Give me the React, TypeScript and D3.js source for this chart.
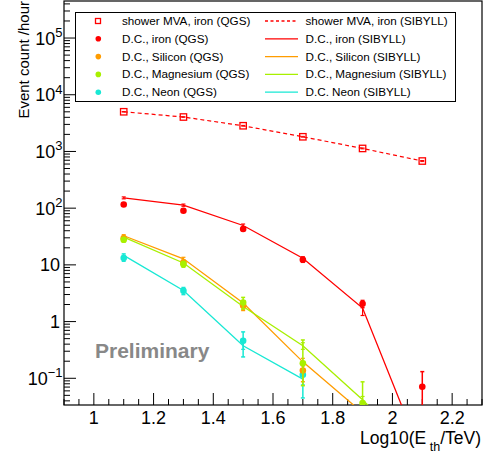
import React from "react";
import * as d3 from "d3";

// ---------- data ----------
const xs = [1.1, 1.3, 1.5, 1.7, 1.9, 2.1];

// shower MVA, iron
const mvaIronQGS = [5010, 4050, 2840, 1815, 1130, 678];
const mvaIronQGSErr = [60, 50, 40, 30, 20, 15];
const mvaIronSIB = [5010, 4050, 2840, 1815, 1130, 678];

// D.C. QGS points
const dcIronQGS = [116, 90, 42.8, 12.3, 2.06, 0.071];
const dcIronQGSUp = [6, 5, 3, 1.2, 0.3, 0.06];
const dcIronQGSDown = [6, 5, 3, 1.2, 0.3, 0.071];

const dcSiliconQGS = [29.4, 11.0, 1.92, 0.137];
const dcSiliconQGSUp = [2.5, 1.2, 0.35, 0.05];
const dcSiliconQGSDown = [2.5, 1.2, 0.35, 0.05];

const dcMagnesiumQGS = [27.7, 10.3, 2.17, 0.184, 0.0366];
const dcMagnesiumQGSUp = [2.5, 1.2, 0.5, 0.29, 0.05];
const dcMagnesiumQGSDown = [2.5, 1.2, 0.5, 0.11, 0.0366];

const dcNeonQGS = [13.2, 3.49, 0.458, 0.115];
const dcNeonQGSUp = [1.6, 0.5, 0.2, 0.06];
const dcNeonQGSDown = [1.6, 0.5, 0.22, 0.07];

// D.C. SIBYLL lines
const dcIronSIB = [152, 113, 49.5, 13.1, 1.73, 0.0041];
const dcIronSIBErr = [6, 5, 3, 0.8, 0.45, 0.001];
const dcSiliconSIB = [32.6, 12.8, 2.12, 0.195, 0.0247];
const dcSiliconSIBErr = [1.5, 0.8, 0.2, 0.03, 0.005];
const dcMagnesiumSIB = [30.8, 10.8, 1.85, 0.374, 0.0418, 0.0036];
const dcMagnesiumSIBErr = [1.5, 0.8, 0.2, 0.05, 0.006, 0.001];
const dcNeonSIB = [14.7, 3.53, 0.374, 0.0966];
const dcNeonSIBErr = [1, 0.3, 0.05, 0.02];

// axis ticks
const xTickValues = [1, 1.2, 1.4, 1.6, 1.8, 2, 2.2];
const xTickLabels = ["1", "1.2", "1.4", "1.6", "1.8", "2", "2.2"];
const yTickExps = [-1, 0, 1, 2, 3, 4, 5];

const legendLeft = [
  "shower MVA, iron (QGS)",
  "D.C., iron (QGS)",
  "D.C., Silicon (QGS)",
  "D.C., Magnesium (QGS)",
  "D.C., Neon (QGS)",
];
const legendRight = [
  "shower MVA, iron (SIBYLL)",
  "D.C., iron (SIBYLL)",
  "D.C., Silicon (SIBYLL)",
  "D.C., Magnesium (SIBYLL)",
  "D.C. Neon (SIBYLL)",
];

const RED = "#ff0000";
const ORANGE = "#ff9c00";
const LIME = "#a8f000";
const CYAN = "#18e8d4";

const W = 484;
const H = 458;
const L = 64;
const R = 482;
const T = 1;
const B = 405;
const FONT = "'Liberation Sans', Arial, Helvetica, sans-serif";
const TICK_FS = 18;

export default function App() {
  const x = d3.scaleLinear().domain([0.9, 2.3]).range([L, R]);
  const y = d3.scaleLog().domain([0.0338, 4.5e5]).range([B, T]);
  const yMin = 0.0338;

  const line = d3
    .line<[number, number]>()
    .x((d) => x(d[0]))
    .y((d) => y(Math.max(d[1], 1e-6)));

  const pts = (vals: number[]) => vals.map((v, i) => [xs[i], v] as [number, number]);

  const errBar = (
    key: string,
    xv: number,
    v: number,
    up: number,
    down: number,
    color: string,
    w = 1.3
  ) => {
    const hasLo = v - down > yMin * 0.5;
    const lo = hasLo ? v - down : yMin * 0.5;
    const yTop = y(v + up);
    const yBot = y(lo);
    const xx = x(xv);
    return (
      <g key={key} stroke={color} strokeWidth={w}>
        <line x1={xx} x2={xx} y1={yTop} y2={yBot} />
        <line x1={xx - 2} x2={xx + 2} y1={yTop} y2={yTop} />
        {hasLo && <line x1={xx - 2} x2={xx + 2} y1={yBot} y2={yBot} />}
      </g>
    );
  };

  // minor ticks
  const xMinor: number[] = [];
  for (let i = 0; i <= 28; i++) {
    const v = 0.9 + i * 0.05;
    if (!xTickValues.some((t) => Math.abs(t - v) < 1e-6)) xMinor.push(v);
  }
  const yMinor: number[] = [];
  for (let e = -2; e <= 5; e++) {
    for (let k = 2; k <= 9; k++) {
      const v = k * Math.pow(10, e);
      if (v >= yMin && v <= 4.5e5) yMinor.push(v);
    }
  }

  const sibLines = [
    { vals: dcIronSIB, err: dcIronSIBErr, color: RED },
    { vals: dcSiliconSIB, err: dcSiliconSIBErr, color: ORANGE },
    { vals: dcMagnesiumSIB, err: dcMagnesiumSIBErr, color: LIME },
    { vals: dcNeonSIB, err: dcNeonSIBErr, color: CYAN },
  ];
  const qgsPts = [
    { vals: dcNeonQGS, up: dcNeonQGSUp, down: dcNeonQGSDown, color: CYAN },
    { vals: dcSiliconQGS, up: dcSiliconQGSUp, down: dcSiliconQGSDown, color: ORANGE },
    { vals: dcMagnesiumQGS, up: dcMagnesiumQGSUp, down: dcMagnesiumQGSDown, color: LIME },
    { vals: dcIronQGS, up: dcIronQGSUp, down: dcIronQGSDown, color: RED },
  ];

  const legendColors = [RED, RED, ORANGE, LIME, CYAN];
  const rowY = (i: number) => 21 + i * 17.8;

  return (
    <div style={{ position: "absolute", left: 0, top: 0 }}>
      <svg width={W} height={H} style={{ display: "block", fontFamily: FONT }}>
        <rect x={0} y={0} width={W} height={H} fill="#fff" />
        <defs>
          <clipPath id="plotClip">
            <rect x={L} y={T} width={R - L} height={B - T} />
          </clipPath>
        </defs>

        {/* frame */}
        <rect x={L} y={T} width={R - L} height={B - T} fill="none" stroke="#000" strokeWidth={1.2} />

        {/* x ticks */}
        {xTickValues.map((t) => (
          <line key={"xt" + t} x1={x(t)} x2={x(t)} y1={B} y2={B - 12} stroke="#000" strokeWidth={1} />
        ))}
        {xMinor.map((t) => (
          <line key={"xm" + t} x1={x(t)} x2={x(t)} y1={B} y2={B - 6} stroke="#000" strokeWidth={1} />
        ))}
        {xTickValues.map((t, i) => (
          <text key={"xl" + t} x={x(t)} y={424} fontSize={TICK_FS} textAnchor="middle" fill="#000">
            {xTickLabels[i]}
          </text>
        ))}

        {/* y ticks */}
        {yTickExps.map((e) => {
          const v = Math.pow(10, e);
          return <line key={"yt" + e} x1={L} x2={L + 12} y1={y(v)} y2={y(v)} stroke="#000" strokeWidth={1} />;
        })}
        {yMinor.map((v, i) => (
          <line key={"ym" + i} x1={L} x2={L + 6} y1={y(v)} y2={y(v)} stroke="#000" strokeWidth={1} />
        ))}
        {yTickExps.map((e) => {
          const v = Math.pow(10, e);
          const yy = y(v) + 6.5;
          if (e === 0)
            return (
              <text key={"yl" + e} x={60} y={yy} fontSize={TICK_FS} textAnchor="end">
                1
              </text>
            );
          if (e === 1)
            return (
              <text key={"yl" + e} x={60} y={yy} fontSize={TICK_FS} textAnchor="end">
                10
              </text>
            );
          return (
            <text key={"yl" + e} x={62.5} y={yy} fontSize={TICK_FS} textAnchor="end">
              10
              <tspan fontSize={13} dy={-7.5}>
                {e < 0 ? "\u2212" + Math.abs(e) : String(e)}
              </tspan>
            </text>
          );
        })}

        {/* axis titles */}
        <text x={481} y={444} fontSize={17.5} textAnchor="end">
          Log10(E
          <tspan fontSize={12.5} dy={7}>
            {" "}th
          </tspan>
          <tspan dy={-7}>/TeV)</tspan>
        </text>
        <text transform="translate(29,1) rotate(-90)" fontSize={15} textAnchor="end">
          Event count /hour
        </text>

        {/* Preliminary */}
        <text x={95} y={358} fontSize={21} fontWeight="bold" fill="#888">
          Preliminary
        </text>

        <g clipPath="url(#plotClip)">
          {/* MVA dashed line */}
          <path d={line(pts(mvaIronSIB)) || ""} fill="none" stroke={RED} strokeWidth={1.2} strokeDasharray="4,3" />
          {mvaIronQGS.map((v, i) => (
            <g key={"mva" + i}>
              {errBar("mvae" + i, xs[i], v, mvaIronQGSErr[i], mvaIronQGSErr[i], RED, 1)}
              <rect x={x(xs[i]) - 3.2} y={y(v) - 3.2} width={6.4} height={6.4} fill="none" stroke={RED} strokeWidth={1.3} />
            </g>
          ))}

          {/* SIBYLL lines */}
          {sibLines.map((s, si) => (
            <g key={"sib" + si}>
              <path d={line(pts(s.vals)) || ""} fill="none" stroke={s.color} strokeWidth={1.3} />
              {s.vals.map((v, i) => errBar("sibe" + si + "_" + i, xs[i], v, s.err[i], s.err[i], s.color, 1.2))}
            </g>
          ))}

          {/* QGS points */}
          {qgsPts.map((s, si) => (
            <g key={"qgs" + si}>
              {s.vals.map((v, i) => (
                <g key={i}>
                  {errBar("qe" + si + "_" + i, xs[i], v, s.up[i], s.down[i], s.color, 1.5)}
                  <circle cx={x(xs[i])} cy={y(v)} r={3.3} fill={s.color} />
                </g>
              ))}
            </g>
          ))}
        </g>

        {/* legend */}
        <rect x={75.5} y={12.5} width={380} height={89} fill="#fff" stroke="#000" strokeWidth={1} />
        {legendLeft.map((t, i) => (
          <g key={"ll" + i}>
            {i === 0 ? (
              <rect x={95.5} y={rowY(i) - 2.5} width={5} height={5} fill="none" stroke={RED} strokeWidth={1.3} />
            ) : (
              <circle cx={98.3} cy={rowY(i)} r={2.8} fill={legendColors[i]} />
            )}
            <text x={122} y={rowY(i) + 4} fontSize={11.7}>
              {t}
            </text>
          </g>
        ))}
        {legendRight.map((t, i) => (
          <g key={"lr" + i}>
            <line
              x1={265}
              x2={298}
              y1={rowY(i)}
              y2={rowY(i)}
              stroke={legendColors[i]}
              strokeWidth={1.3}
              strokeDasharray={i === 0 ? "3,2.5" : undefined}
            />
            <text x={305.5} y={rowY(i) + 4} fontSize={11.7}>
              {t}
            </text>
          </g>
        ))}
      </svg>
    </div>
  );
}
